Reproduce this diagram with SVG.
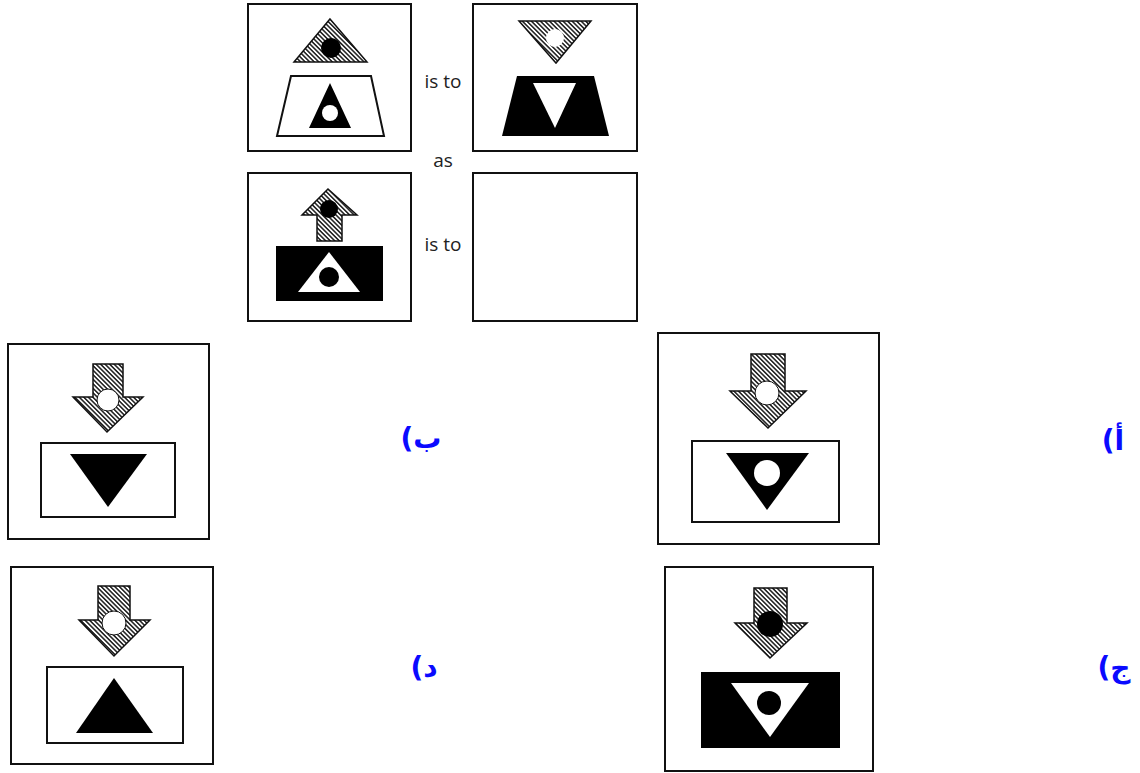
<svg xmlns="http://www.w3.org/2000/svg" width="1140" height="773" viewBox="0 0 1140 773">
<defs>
<pattern id="hatch" width="3.2" height="3.2" patternUnits="userSpaceOnUse" patternTransform="rotate(45)">
<rect width="3.2" height="3.2" fill="#fff"/>
<line x1="0" y1="0.8" x2="3.2" y2="0.8" stroke="#1a1a1a" stroke-width="1.5"/>
</pattern>
</defs>
<style>
.box{fill:#fff;stroke:#111;stroke-width:2}
.hat{fill:url(#hatch);stroke:#111;stroke-width:1.5;stroke-linejoin:miter}
.blk{fill:#000}
.wht{fill:#fff}
.frame{fill:#fff;stroke:#111;stroke-width:2}
.lbl{font-family:"Open Sans","DejaVu Sans",sans-serif;font-size:19px;fill:#222;text-anchor:middle}
.ar{font-family:"DejaVu Sans",sans-serif;font-weight:bold;font-size:28px;fill:#0a0aff;text-anchor:middle}
</style>
<rect width="1140" height="773" fill="#fff"/>

<g id="panel1">
<rect class="box" x="248" y="4" width="163" height="147"/>
<polygon class="hat" points="330,19 367,62 294,62"/>
<circle class="blk" cx="331" cy="48" r="10"/>
<polygon class="frame" points="291,76 371,76 384,136 277,136"/>
<polygon class="blk" points="330,83 351,128 309,128"/>
<circle class="wht" cx="330" cy="113" r="8"/>
</g>

<g id="panel2">
<rect class="box" x="473" y="4" width="164" height="147"/>
<polygon class="hat" points="519,21 591,21 556,63"/>
<circle class="wht" cx="555" cy="38" r="9"/>
<polygon class="blk" points="517,76 594,76 609,136 502,136"/>
<polygon class="wht" points="533,83 576,83 555,128"/>
</g>

<g id="panel3">
<rect class="box" x="248" y="173" width="163" height="148"/>
<polygon class="hat" points="328,189 357,215 342,215 342,241 317,241 317,215 302,215"/>
<circle class="blk" cx="329" cy="209" r="9"/>
<rect class="blk" x="276" y="246" width="107" height="55"/>
<polygon class="wht" points="329,252 360,292 298,292"/>
<circle class="blk" cx="329" cy="277" r="10"/>
</g>

<g id="panel4">
<rect class="box" x="473" y="173" width="164" height="148"/>
</g>

<g id="texts">
<text class="lbl" x="443" y="88">is to</text>
<text class="lbl" x="443" y="167">as</text>
<text class="lbl" x="443" y="251">is to</text>
</g>

<g id="optionB">
<rect class="box" x="8" y="344" width="201" height="195"/>
<polygon class="hat" points="93,364 123,364 123,397 143,397 107,432 73,397 93,397"/>
<circle class="wht" cx="108" cy="400" r="11" stroke="#111" stroke-width="1"/>
<rect class="frame" x="41" y="443" width="134" height="74"/>
<polygon class="blk" points="70,454 147,454 108,507"/>
<text class="ar" x="421" y="448" direction="rtl">ب)</text>
</g>

<g id="optionA">
<rect class="box" x="658" y="333" width="221" height="211"/>
<polygon class="hat" points="751,354 785,354 785,391 806,391 768,428 730,391 751,391"/>
<circle class="wht" cx="767" cy="393" r="12" stroke="#111" stroke-width="1"/>
<rect class="frame" x="692" y="441" width="147" height="81"/>
<polygon class="blk" points="726,453 809,453 767,510"/>
<circle class="wht" cx="767" cy="473" r="13"/>
<text class="ar" x="1113" y="450" direction="rtl">أ)</text>
</g>

<g id="optionD">
<rect class="box" x="11" y="567" width="202" height="197"/>
<polygon class="hat" points="98,586 130,586 130,620 150,620 114,656 79,620 98,620"/>
<circle class="wht" cx="114" cy="623" r="12" stroke="#111" stroke-width="1"/>
<rect class="frame" x="47" y="667" width="136" height="76"/>
<polygon class="blk" points="114,678 153,733 76,733"/>
<text class="ar" x="424" y="677" direction="rtl">د)</text>
</g>

<g id="optionC">
<rect class="box" x="665" y="567" width="208" height="204"/>
<polygon class="hat" points="754,588 787,588 787,623 807,623 770,658 735,623 754,623"/>
<circle class="blk" cx="770" cy="624" r="13"/>
<rect class="blk" x="701" y="672" width="139" height="76"/>
<polygon class="wht" points="731,683 809,683 770,737"/>
<circle class="blk" cx="769" cy="703" r="12"/>
<text class="ar" x="1114" y="677" direction="rtl">ج)</text>
</g>
</svg>
